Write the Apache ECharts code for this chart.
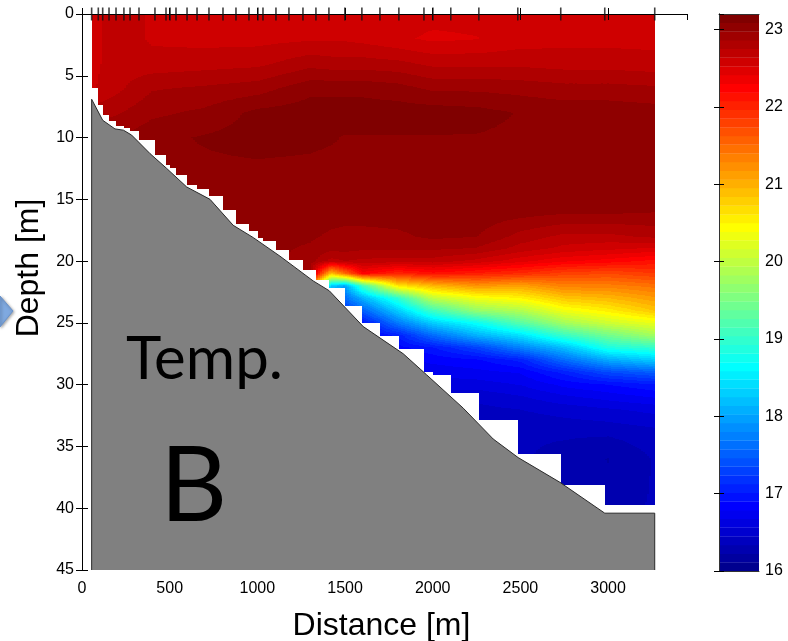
<!DOCTYPE html>
<html><head><meta charset="utf-8">
<script src="https://cdn.jsdelivr.net/npm/echarts@6/dist/echarts.min.js"></script>
<style>html,body{margin:0;padding:0;background:#fff}#chart{width:788px;height:641px}</style>
</head><body><div id="chart"></div>
<script>
// ---------------- data ----------------
// temperature grid: columns = distance nodes [m], rows = depth nodes [m]
const gridDistance = [55, 200, 400, 700, 1000, 1300, 1420, 1500, 1600, 1800, 2000, 2250, 2500, 2750, 3000, 3270];
const gridDepth = [0, 2, 4, 6, 8, 10, 12, 14, 16, 18, 19, 20, 21, 22, 23, 24, 25, 26, 27, 28, 29, 30, 31, 32, 34, 36, 38, 40];
const temperature = [
  [22.60, 22.70, 22.62, 22.60, 22.60, 22.60, 22.60, 22.60, 22.60, 22.58, 22.57, 22.57, 22.60, 22.60, 22.60, 22.60],
  [22.60, 22.70, 22.62, 22.60, 22.60, 22.62, 22.62, 22.62, 22.60, 22.55, 22.50, 22.52, 22.58, 22.60, 22.60, 22.60],
  [22.60, 22.70, 22.68, 22.70, 22.72, 22.82, 22.80, 22.80, 22.80, 22.78, 22.72, 22.72, 22.72, 22.70, 22.70, 22.68],
  [22.62, 22.72, 22.85, 22.88, 22.92, 23.05, 23.05, 23.05, 23.05, 23.02, 22.95, 22.95, 22.93, 22.90, 22.90, 22.88],
  [22.80, 22.85, 22.95, 23.00, 23.12, 23.15, 23.15, 23.15, 23.15, 23.15, 23.15, 23.13, 23.08, 23.05, 23.05, 23.03],
  [23.00, 22.98, 23.05, 23.10, 23.14, 23.12, 23.10, 23.08, 23.08, 23.08, 23.08, 23.08, 23.06, 23.06, 23.06, 23.05],
  [23.05, 23.05, 23.06, 23.07, 23.08, 23.07, 23.06, 23.06, 23.06, 23.06, 23.06, 23.06, 23.05, 23.05, 23.05, 23.04],
  [23.05, 23.05, 23.05, 23.05, 23.05, 23.05, 23.05, 23.05, 23.05, 23.05, 23.05, 23.05, 23.05, 23.04, 23.03, 23.02],
  [23.05, 23.05, 23.05, 23.05, 23.05, 23.05, 23.04, 23.04, 23.04, 23.04, 23.05, 23.05, 23.03, 23.00, 23.00, 22.98],
  [23.05, 23.05, 23.05, 23.05, 23.05, 23.00, 22.95, 22.93, 22.93, 22.95, 23.00, 22.98, 22.82, 22.72, 22.72, 22.78],
  [23.05, 23.05, 23.05, 23.05, 23.03, 22.95, 22.90, 22.90, 22.88, 22.88, 22.88, 22.85, 22.70, 22.60, 22.55, 22.50],
  [23.05, 23.05, 23.05, 23.05, 23.03, 22.92, 22.70, 22.75, 22.72, 22.70, 22.70, 22.60, 22.45, 22.32, 22.25, 22.15],
  [23.05, 23.05, 23.05, 23.05, 23.03, 22.90, 20.90, 21.50, 22.25, 22.00, 22.15, 22.05, 21.95, 21.80, 21.75, 21.85],
  [23.05, 23.05, 23.05, 23.05, 23.03, 21.50, 18.30, 18.00, 19.10, 20.60, 20.95, 21.20, 21.10, 21.35, 21.35, 21.45],
  [23.05, 23.05, 23.05, 23.05, 23.03, 19.50, 17.60, 17.60, 18.10, 18.95, 20.00, 20.35, 20.50, 20.85, 20.95, 21.15],
  [23.05, 23.05, 23.05, 23.05, 23.03, 18.50, 17.20, 17.20, 17.50, 18.30, 19.10, 19.70, 19.90, 20.35, 20.55, 20.85],
  [23.05, 23.05, 23.05, 23.05, 23.03, 17.80, 17.00, 16.95, 16.95, 17.70, 18.30, 18.70, 19.25, 19.80, 20.10, 20.30],
  [23.05, 23.05, 23.05, 23.05, 23.03, 17.30, 16.85, 16.80, 16.80, 17.05, 17.60, 18.10, 18.45, 19.05, 19.45, 19.80],
  [23.05, 23.05, 23.05, 23.05, 23.03, 17.00, 16.85, 16.80, 16.75, 16.85, 17.00, 17.30, 17.75, 18.20, 18.85, 19.00],
  [23.05, 23.05, 23.05, 23.05, 23.03, 17.00, 16.85, 16.80, 16.75, 16.75, 16.82, 16.88, 17.05, 17.60, 18.05, 18.30],
  [23.05, 23.05, 23.05, 23.05, 23.03, 17.00, 16.85, 16.80, 16.75, 16.70, 16.72, 16.75, 16.80, 17.05, 17.35, 17.50],
  [23.05, 23.05, 23.05, 23.05, 23.03, 17.00, 16.85, 16.80, 16.75, 16.70, 16.60, 16.62, 16.68, 16.82, 16.90, 17.00],
  [23.05, 23.05, 23.05, 23.05, 23.03, 17.00, 16.85, 16.80, 16.75, 16.70, 16.50, 16.48, 16.55, 16.65, 16.72, 16.80],
  [23.05, 23.05, 23.05, 23.05, 23.03, 17.00, 16.85, 16.80, 16.75, 16.70, 16.45, 16.42, 16.45, 16.50, 16.55, 16.60],
  [23.05, 23.05, 23.05, 23.05, 23.03, 17.00, 16.85, 16.80, 16.75, 16.70, 16.45, 16.38, 16.35, 16.35, 16.35, 16.40],
  [23.05, 23.05, 23.05, 23.05, 23.03, 17.00, 16.85, 16.80, 16.75, 16.70, 16.45, 16.38, 16.35, 16.30, 16.22, 16.35],
  [23.05, 23.05, 23.05, 23.05, 23.03, 17.00, 16.85, 16.80, 16.75, 16.70, 16.45, 16.38, 16.35, 16.30, 16.25, 16.35],
  [23.05, 23.05, 23.05, 23.05, 23.03, 17.00, 16.85, 16.80, 16.75, 16.70, 16.45, 16.38, 16.35, 16.30, 16.30, 16.35]
];
// CTD station positions [m] (ticks on top axis) and deepest data in each station column [m]
const stations = [55, 93, 118, 154, 194, 239, 274, 325, 416, 479, 502, 536, 599, 656, 724, 804, 878, 952, 1003, 1032,
  1106, 1180, 1260, 1334, 1408, 1499, 1596, 1699, 1807, 1950, 2001, 2103, 2263, 2485, 2730, 2981, 3266];
const stationDataBottom = [6.0, 7.4, 8.2, 8.7, 9.1, 9.2, 9.5, 10.2, 11.4, 12.2, 12.5, 13.0, 13.8, 14.2, 14.7, 15.9, 17.0, 17.6,
  18.1, 18.4, 19.1, 19.9, 20.7, 21.5, 22.2, 23.6, 25.0, 26.1, 27.1, 29.0, 29.2, 30.7, 32.9, 35.6, 38.1, 39.7];
// bathymetry
const bathyDistance = [55, 55, 118, 188, 236, 283, 388, 483, 597, 730, 862, 977, 1129, 1318, 1410, 1604, 1832, 1965, 2174, 2345, 2487, 2725, 2981, 3266, 3266];
const bathyDepth = [45, 6.9, 8.6, 9.3, 9.4, 9.8, 11.3, 12.5, 14.0, 15.0, 17.1, 18.1, 19.6, 21.6, 22.4, 25.3, 27.5, 29.2, 31.9, 34.4, 35.9, 37.9, 40.4, 40.4, 45];
// axes
const distanceRange = [0, 3450];
const depthRange = [0, 45];
const colorLimits = [16, 23.2];
const colormapSize = 64;

// ---------------- helpers ----------------
function clamp01(v) { return Math.max(0, Math.min(1, v)); }
function jet(t) {
  const r = clamp01(Math.min(4 * t - 1.5, -4 * t + 4.5));
  const g = clamp01(Math.min(4 * t - 0.5, -4 * t + 3.5));
  const b = clamp01(Math.min(4 * t + 0.5, -4 * t + 2.5));
  return 'rgb(' + Math.round(r * 255) + ',' + Math.round(g * 255) + ',' + Math.round(b * 255) + ')';
}
const jetColors = [];
for (let k = 1; k <= colormapSize; k++) jetColors.push(jet(k / colormapSize));
function colorIndex(v) {
  let k = Math.floor((v - colorLimits[0]) / (colorLimits[1] - colorLimits[0]) * colormapSize);
  return Math.max(0, Math.min(colormapSize - 1, k));
}
function locate(arr, v) {
  if (v <= arr[0]) return [0, 0];
  const n = arr.length;
  if (v >= arr[n - 1]) return [n - 2, 1];
  for (let i = 0; i < n - 1; i++) {
    if (v <= arr[i + 1]) return [i, (v - arr[i]) / (arr[i + 1] - arr[i])];
  }
  return [n - 2, 1];
}
function tempAt(d, z) {
  const [i, u] = locate(gridDistance, d);
  const [j, w] = locate(gridDepth, z);
  const t00 = temperature[j][i], t10 = temperature[j][i + 1];
  const t01 = temperature[j + 1][i], t11 = temperature[j + 1][i + 1];
  return (1 - u) * (1 - w) * t00 + u * (1 - w) * t10 + (1 - u) * w * t01 + u * w * t11;
}

// ---------------- series data ----------------
const fieldColumns = [];
for (let i = 0; i < stations.length - 1; i++) fieldColumns.push([stations[i], stations[i + 1], stationDataBottom[i]]);
const bathyData = bathyDistance.map((d, i) => [d, bathyDepth[i]]);
const stationTicks = stations.map(s => [s, 0]);
const colorBands = [];
for (let k = 0; k < colormapSize; k++) {
  const lo = colorLimits[0] + (colorLimits[1] - colorLimits[0]) * k / colormapSize;
  const hi = colorLimits[0] + (colorLimits[1] - colorLimits[0]) * (k + 1) / colormapSize;
  colorBands.push([lo, hi, k]);
}

function renderField(params, api) {
  const d0 = api.value(0), d1 = api.value(1), zb = api.value(2);
  const o = api.coord([distanceRange[0], depthRange[0]]);
  const e = api.coord([distanceRange[1], depthRange[1]]);
  const pxPerM = (e[0] - o[0]) / (distanceRange[1] - distanceRange[0]);
  const pxPerDepth = (e[1] - o[1]) / (depthRange[1] - depthRange[0]);
  const xl = Math.round(api.coord([d0, 0])[0]);
  const xr = Math.round(api.coord([d1, 0])[0]);
  const yt = Math.round(o[1]);
  const yb = Math.round(api.coord([d0, zb])[1]);
  const children = [];
  for (let x = xl; x < xr; x += 2) {
    const w = Math.min(2, xr - x);
    const d = (x + w / 2 - o[0]) / pxPerM + distanceRange[0];
    let runStart = yt, runK = -1;
    for (let y = yt; y <= yb; y++) {
      let k = -2;
      if (y < yb) {
        const z = (y + 0.5 - o[1]) / pxPerDepth + depthRange[0];
        k = colorIndex(tempAt(d, z));
      }
      if (k !== runK) {
        if (runK >= 0 && y > runStart) {
          children.push({ type: 'rect', shape: { x: x, y: runStart, width: w, height: y - runStart },
            style: { fill: jetColors[runK] } });
        }
        runStart = y; runK = k;
      }
    }
  }
  return { type: 'group', children: children };
}

function renderBand(params, api) {
  const p1 = api.coord([0, api.value(1)]);
  const p2 = api.coord([1, api.value(0)]);
  return { type: 'rect', shape: { x: p1[0], y: p1[1], width: p2[0] - p1[0], height: p2[1] - p1[1] + 0.3 },
    style: { fill: jetColors[api.value(2)] } };
}

const FONT = 'Liberation Sans, Arial, sans-serif';
const chart = echarts.init(document.getElementById('chart'), null, { renderer: 'canvas', width: 788, height: 641 });
chart.setOption({
  animation: false,
  backgroundColor: '#fff',
  grid: [
    { left: 82, top: 14, width: 605, height: 556, containLabel: false, outerBoundsMode: 'none' },
    { left: 719, top: 14, width: 40, height: 557, containLabel: false, outerBoundsMode: 'none' }
  ],
  xAxis: [
    { type: 'value', gridIndex: 0, min: distanceRange[0], max: distanceRange[1], interval: 500, position: 'bottom', z: 10,
      axisLine: { show: true, lineStyle: { color: '#000', width: 1 } },
      axisTick: { show: true, inside: true, length: 6, lineStyle: { color: '#000' } },
      axisLabel: { show: true, color: '#000', fontSize: 16, fontFamily: FONT, margin: 11, showMaxLabel: false,
        formatter: v => (v % 500 === 0 ? String(v) : '') },
      splitLine: { show: false },
      name: 'Distance [m]', nameLocation: 'middle', nameGap: 40,
      nameTextStyle: { fontSize: 32, fontFamily: FONT, color: '#000', padding: [0, 6, 0, 0] } },
    { type: 'value', gridIndex: 0, min: distanceRange[0], max: distanceRange[1], interval: 500, position: 'top', z: 10,
      axisLine: { show: true, lineStyle: { color: '#000', width: 1 } },
      axisTick: { show: true, inside: true, length: 6, lineStyle: { color: '#000' } },
      axisLabel: { show: false }, splitLine: { show: false } },
    { type: 'value', gridIndex: 1, min: 0, max: 1, position: 'bottom', z: 10,
      axisLine: { show: true, lineStyle: { color: '#333' } }, axisTick: { show: false }, axisLabel: { show: false }, splitLine: { show: false } },
    { type: 'value', gridIndex: 1, min: 0, max: 1, position: 'top', z: 10,
      axisLine: { show: true, lineStyle: { color: '#333' } }, axisTick: { show: false }, axisLabel: { show: false }, splitLine: { show: false } }
  ],
  yAxis: [
    { type: 'value', gridIndex: 0, min: depthRange[0], max: depthRange[1], interval: 5, inverse: true, position: 'left', z: 10,
      axisLine: { show: true, lineStyle: { color: '#000', width: 1 } },
      axisTick: { show: true, inside: true, length: 6, lineStyle: { color: '#000' } },
      axisLabel: { show: true, color: '#000', fontSize: 16, fontFamily: FONT, margin: 8 },
      splitLine: { show: false },
      name: 'Depth [m]', nameLocation: 'middle', nameRotate: 90, nameGap: 36,
      nameTextStyle: { fontSize: 32, fontFamily: FONT, color: '#000', padding: [0, 0, 0, 48] } },
    { type: 'value', gridIndex: 0, min: depthRange[0], max: depthRange[1], interval: 5, inverse: true, position: 'right', z: 10,
      axisLine: { show: true, lineStyle: { color: '#000', width: 1 } },
      axisTick: { show: true, inside: true, length: 6, lineStyle: { color: '#000' } },
      axisLabel: { show: false }, splitLine: { show: false } },
    { type: 'value', gridIndex: 1, min: colorLimits[0], max: colorLimits[1], interval: 1, position: 'right', z: 10,
      axisLine: { show: true, lineStyle: { color: '#333' } },
      axisTick: { show: true, inside: true, length: 5, lineStyle: { color: '#000' } },
      axisLabel: { show: true, color: '#000', fontSize: 16, fontFamily: FONT, margin: 6, showMaxLabel: false,
        formatter: v => (Math.abs(v - Math.round(v)) < 1e-6 ? String(Math.round(v)) : '') },
      splitLine: { show: false } },
    { type: 'value', gridIndex: 1, min: colorLimits[0], max: colorLimits[1], interval: 1, position: 'left', z: 10,
      axisLine: { show: true, lineStyle: { color: '#333' } },
      axisTick: { show: true, inside: true, length: 5, lineStyle: { color: '#000' } },
      axisLabel: { show: false }, splitLine: { show: false } }
  ],
  series: [
    { type: 'custom', name: 'Temperature', xAxisIndex: 0, yAxisIndex: 0, z: 2, silent: true,
      renderItem: renderField, data: fieldColumns, encode: { x: [0, 1], y: 2 } },
    { type: 'line', name: 'Bottom', xAxisIndex: 0, yAxisIndex: 0, z: 3, silent: true, symbol: 'none',
      data: bathyData, lineStyle: { color: '#2a2a2a', width: 1 },
      areaStyle: { color: '#808080', opacity: 1, origin: 'end' } },
    { type: 'scatter', name: 'Stations', xAxisIndex: 0, yAxisIndex: 0, z: 11, silent: true, clip: false,
      symbol: 'rect', symbolSize: [1.6, 13], itemStyle: { color: '#111' }, data: stationTicks },
    { type: 'custom', name: 'Colorbar', xAxisIndex: 2, yAxisIndex: 2, z: 2, silent: true,
      renderItem: renderBand, data: colorBands, encode: { y: [0, 1] } }
  ],
  graphic: [
    { type: 'polygon', z: 20, silent: true,
      shape: { points: [[0, 296], [13, 311], [0, 327]] },
      style: { fill: '#7fa9e0', stroke: '#6a93cc', lineWidth: 1, shadowBlur: 3, shadowColor: 'rgba(0,0,0,0.35)', shadowOffsetX: 1, shadowOffsetY: 1 } },
    { type: 'text', z: 20, silent: true, x: 126, y: 360,
      style: { text: 'Temp.', font: '60px Lato, sans-serif', fill: '#000', textAlign: 'left', textVerticalAlign: 'middle' } },
    { type: 'text', z: 20, silent: true, x: 160, y: 487,
      style: { text: 'B', font: '104px Lato, sans-serif', fill: '#000', textAlign: 'left', textVerticalAlign: 'middle' } }
  ]
});
</script>
</body></html>
